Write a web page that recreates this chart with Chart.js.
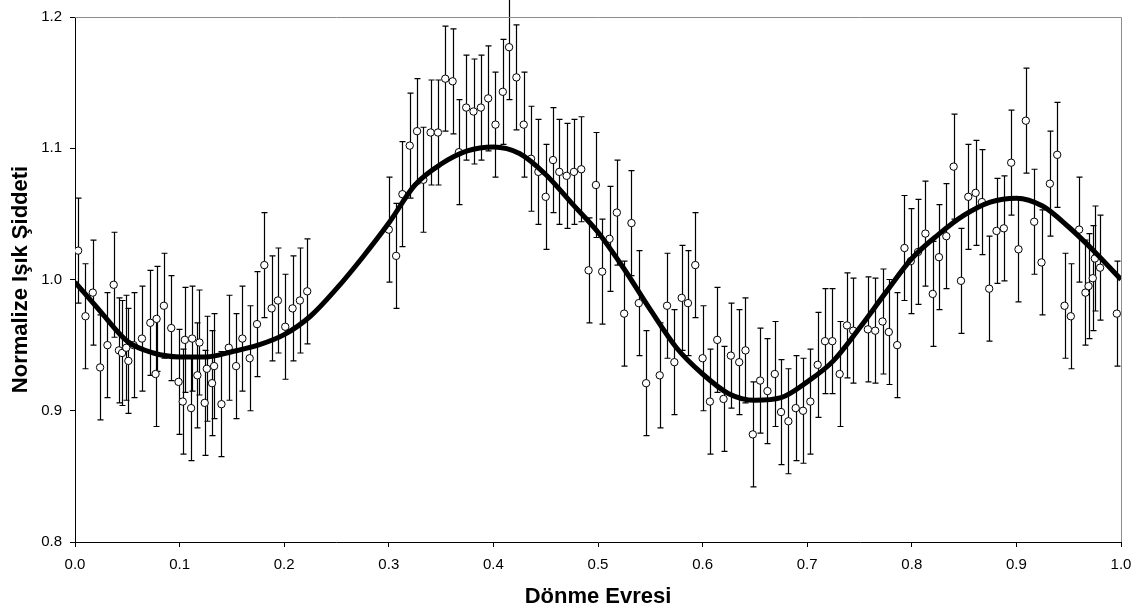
<!DOCTYPE html>
<html>
<head>
<meta charset="utf-8">
<script src="https://cdn.jsdelivr.net/npm/chart.js@4.4.1/dist/chart.umd.min.js"></script>
<style>
  html, body { margin: 0; padding: 0; background: #fff; }
  #wrap { width: 1146px; height: 609px; }
</style>
</head>
<body>
<div id="wrap"><canvas id="lightCurve"></canvas></div>
<script>
// Observed points: rotation phase and normalised intensity
const phase = [
  0.003, 0.010, 0.017, 0.024, 0.031, 0.037, 0.042, 0.045, 0.049, 0.051,
  0.056, 0.064, 0.072, 0.077, 0.078, 0.085, 0.092, 0.099, 0.103, 0.105,
  0.111, 0.112, 0.117, 0.119, 0.124, 0.126, 0.131, 0.133, 0.140, 0.147,
  0.154, 0.160, 0.167, 0.174, 0.181, 0.188, 0.194, 0.201, 0.208, 0.215,
  0.222, 0.300, 0.307, 0.313, 0.320, 0.327, 0.333, 0.340, 0.347, 0.354,
  0.361, 0.367, 0.374, 0.381, 0.388, 0.395, 0.402, 0.409, 0.415, 0.422,
  0.429, 0.436, 0.443, 0.450, 0.457, 0.463, 0.470, 0.477, 0.484, 0.491,
  0.498, 0.504, 0.511, 0.518, 0.525, 0.532, 0.539, 0.546, 0.559, 0.566,
  0.573, 0.580, 0.586, 0.593, 0.600, 0.607, 0.614, 0.620, 0.627, 0.635,
  0.641, 0.648, 0.655, 0.662, 0.669, 0.675, 0.682, 0.689, 0.696, 0.703,
  0.710, 0.717, 0.724, 0.731, 0.738, 0.744, 0.758, 0.765, 0.772, 0.778,
  0.786, 0.793, 0.799, 0.806, 0.813, 0.820, 0.826, 0.833, 0.840, 0.847,
  0.854, 0.861, 0.867, 0.874, 0.881, 0.888, 0.895, 0.902, 0.909, 0.917,
  0.924, 0.932, 0.939, 0.946, 0.952, 0.960, 0.966, 0.969, 0.973, 0.975,
  0.980, 0.996
];
const flux = [
  1.022, 0.972, 0.990, 0.933, 0.950, 0.996, 0.946, 0.944, 0.948, 0.938,
  0.950, 0.955, 0.967, 0.928, 0.970, 0.980, 0.963, 0.922, 0.907, 0.954,
  0.902, 0.955, 0.927, 0.952, 0.906, 0.932, 0.921, 0.934, 0.905, 0.948,
  0.934, 0.955, 0.940, 0.966, 1.011, 0.978, 0.984, 0.964, 0.978, 0.984,
  0.991, 1.038, 1.018, 1.065, 1.102, 1.113, 1.076, 1.112, 1.112, 1.153,
  1.151, 1.097, 1.131, 1.128, 1.131, 1.138, 1.118, 1.143, 1.177, 1.154,
  1.118, 1.092, 1.082, 1.063, 1.091, 1.082, 1.079, 1.082, 1.084, 1.007,
  1.072, 1.006, 1.031, 1.051, 0.974, 1.043, 0.982, 0.921, 0.927, 0.980,
  0.937, 0.986, 0.982, 1.011, 0.940, 0.907, 0.954, 0.909, 0.942, 0.937,
  0.946, 0.882, 0.923, 0.915, 0.928, 0.899, 0.892, 0.902, 0.900, 0.907,
  0.935, 0.953, 0.953, 0.928, 0.965, 0.961, 0.962, 0.961, 0.968, 0.960,
  0.950, 1.024, 1.014, 1.021, 1.035, 0.989, 1.017, 1.033, 1.086, 0.999,
  1.063, 1.066, 1.059, 0.993, 1.037, 1.039, 1.089, 1.023, 1.121, 1.044,
  1.013, 1.073, 1.095, 0.980, 0.972, 1.038, 0.990, 0.995, 1.001, 1.016,
  1.009, 0.974
];
const fluxErr = 0.04; // same error bar on every point

// Model curve
const fitPhase = [
  0.000, 0.025, 0.050, 0.075, 0.100, 0.125, 0.150, 0.175, 0.200, 0.225,
  0.250, 0.275, 0.300, 0.325, 0.350, 0.375, 0.400, 0.425, 0.450, 0.475,
  0.500, 0.525, 0.550, 0.575, 0.600, 0.625, 0.650, 0.675, 0.700, 0.725,
  0.750, 0.775, 0.800, 0.825, 0.850, 0.875, 0.900, 0.925, 0.950, 0.975,
  1.000
];
const fitFlux = [
  0.998, 0.975, 0.953, 0.944, 0.941, 0.941, 0.945, 0.950, 0.958, 0.972,
  0.993, 1.017, 1.043, 1.072, 1.088, 1.098, 1.101, 1.096, 1.080, 1.058,
  1.036, 1.008, 0.977, 0.948, 0.928, 0.913, 0.908, 0.910, 0.922, 0.938,
  0.963, 0.990, 1.016, 1.034, 1.049, 1.059, 1.062, 1.056, 1.040, 1.021,
  1.000
];

const FONT = 'Liberation Sans, Arial, sans-serif';

// Vertical error bars with small caps, drawn under the markers
const errorBars = {
  id: 'errorBars',
  beforeDatasetsDraw(chart) {
    const ctx = chart.ctx;
    const xs = chart.scales.x;
    const ys = chart.scales.y;
    ctx.save();
    ctx.strokeStyle = '#000';
    ctx.lineWidth = 1.2;
    phase.forEach((p, i) => {
      const px = Math.round(xs.getPixelForValue(p)) + 0.5;
      const top = ys.getPixelForValue(flux[i] + fluxErr);
      const bot = ys.getPixelForValue(flux[i] - fluxErr);
      ctx.beginPath();
      ctx.moveTo(px, top);
      ctx.lineTo(px, bot);
      ctx.moveTo(px - 3, top);
      ctx.lineTo(px + 3, top);
      ctx.moveTo(px - 3, bot);
      ctx.lineTo(px + 3, bot);
      ctx.stroke();
    });
    ctx.restore();
  }
};

// Grey frame on the top and right of the plot area
const plotFrame = {
  id: 'plotFrame',
  beforeDatasetsDraw(chart) {
    const { ctx, chartArea: a } = chart;
    ctx.save();
    ctx.strokeStyle = '#8c8c8c';
    ctx.lineWidth = 1;
    ctx.beginPath();
    ctx.moveTo(a.left, a.top + 0.5);
    ctx.lineTo(a.right + 0.5, a.top + 0.5);
    ctx.lineTo(a.right + 0.5, a.bottom);
    ctx.stroke();
    ctx.restore();
  }
};

new Chart(document.getElementById('lightCurve'), {
  data: {
    datasets: [
      {
        type: 'line',
        data: fitPhase.map((p, i) => ({ x: p, y: fitFlux[i] })),
        borderColor: '#000',
        borderWidth: 5,
        pointRadius: 0,
        cubicInterpolationMode: 'monotone',
        fill: false,
        order: 0
      },
      {
        type: 'scatter',
        data: phase.map((p, i) => ({ x: p, y: flux[i] })),
        pointRadius: 3.7,
        pointBackgroundColor: '#fff',
        pointBorderColor: '#000',
        pointBorderWidth: 1,
        order: 1
      }
    ]
  },
  options: {
    responsive: true,
    maintainAspectRatio: false,
    animation: false,
    layout: { padding: { top: 14, right: 25, bottom: 0, left: 0 } },
    plugins: {
      legend: { display: false },
      tooltip: { enabled: false }
    },
    scales: {
      x: {
        type: 'linear',
        min: 0,
        max: 1,
        afterFit: (s) => { s.height = 67; },
        ticks: {
          stepSize: 0.1,
          padding: 9,
          color: '#000',
          font: { family: FONT, size: 15 },
          callback: (v) => v.toFixed(1)
        },
        grid: { drawOnChartArea: false, drawTicks: true, tickLength: 5, color: '#000' },
        border: { color: '#000', width: 1 },
        title: {
          display: true,
          text: 'Dönme Evresi',
          color: '#000',
          font: { family: FONT, size: 22, weight: 'bold', lineHeight: 1 },
          padding: { top: 4, bottom: 1 }
        }
      },
      y: {
        type: 'linear',
        min: 0.8,
        max: 1.2,
        afterFit: (s) => { s.width = 75; },
        ticks: {
          stepSize: 0.1,
          padding: 8,
          color: '#000',
          font: { family: FONT, size: 15 },
          callback: (v) => v.toFixed(1)
        },
        grid: { drawOnChartArea: false, drawTicks: true, tickLength: 5, color: '#000' },
        border: { color: '#000', width: 1 },
        title: {
          display: true,
          text: 'Normalize Işık Şiddeti',
          color: '#000',
          font: { family: FONT, size: 22, weight: 'bold', lineHeight: 1 },
          padding: { top: 10, bottom: 4 }
        }
      }
    }
  },
  plugins: [errorBars, plotFrame]
});
</script>
</body>
</html>
